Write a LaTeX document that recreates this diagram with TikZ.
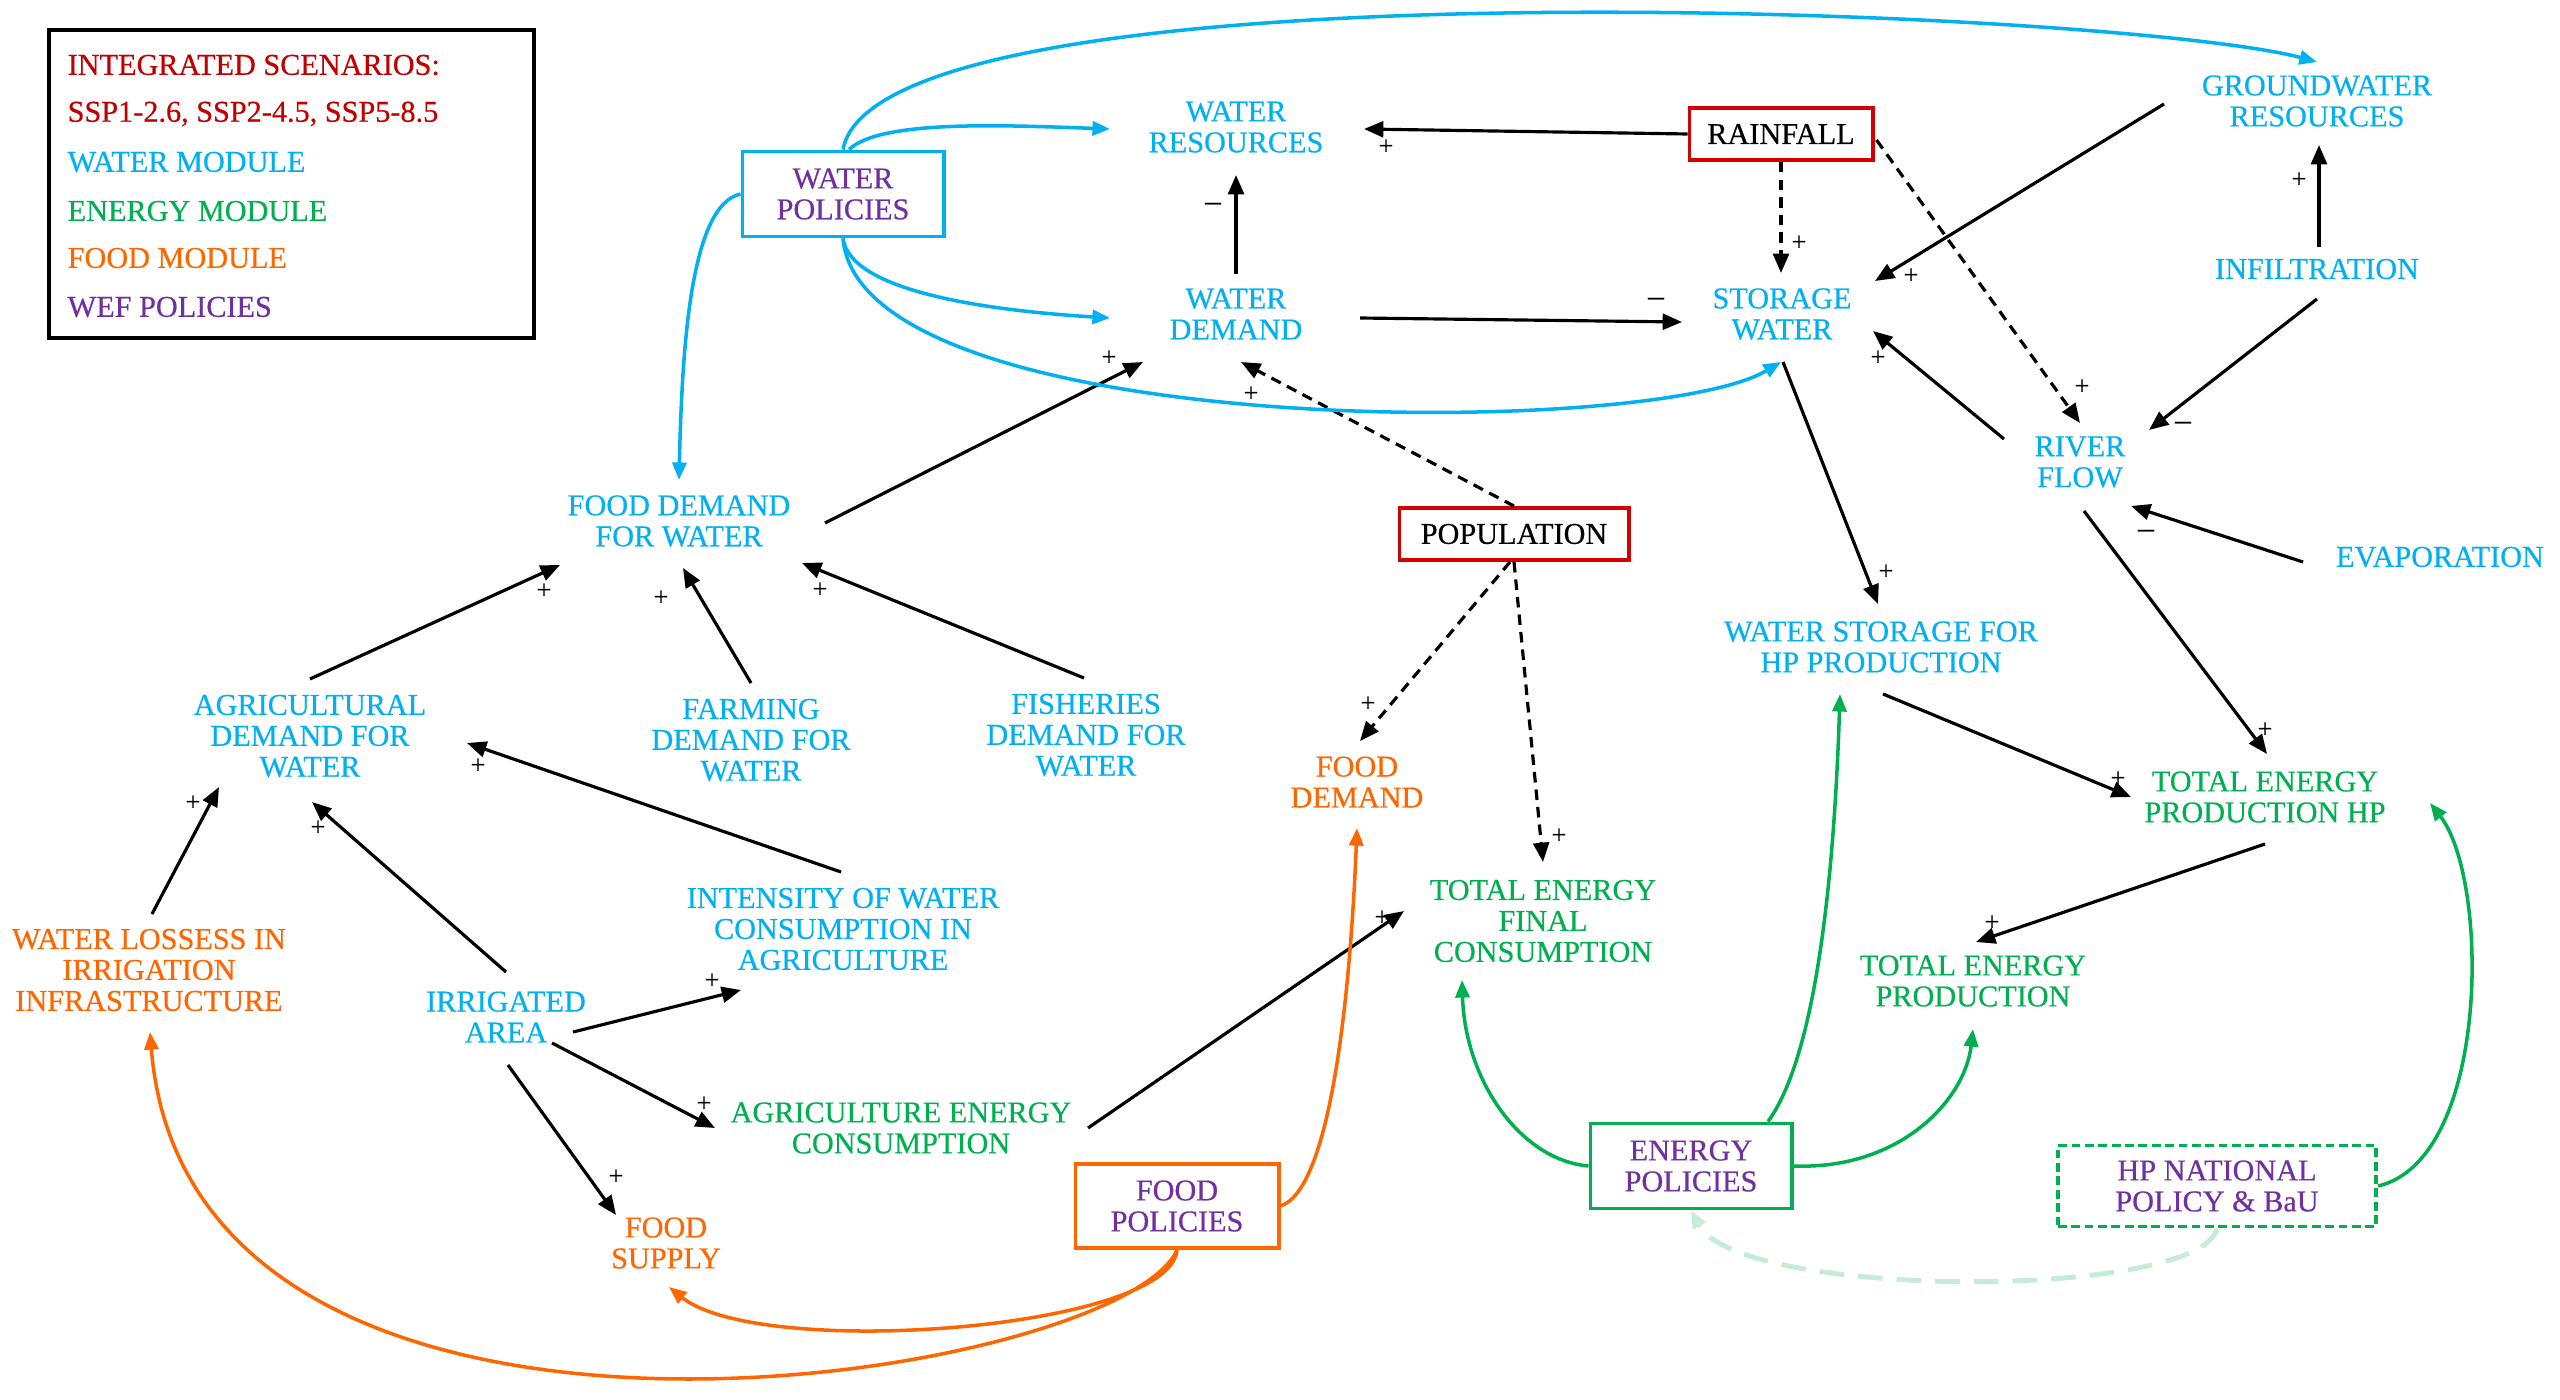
\documentclass[tikz,border=0pt]{standalone}
\usepackage{fontspec}
\setmainfont{Liberation Serif}[FakeBold=0.5]
\usetikzlibrary{arrows.meta,calc}
\definecolor{wcyan}{RGB}{0,176,240}
\definecolor{egreen}{RGB}{0,176,80}
\definecolor{forange}{RGB}{255,102,0}
\definecolor{ppurple}{RGB}{112,48,160}
\definecolor{sred}{RGB}{192,0,0}
\definecolor{bred}{RGB}{210,0,0}
\definecolor{lgreen}{RGB}{198,236,214}
\begin{document}
\begin{tikzpicture}[x=0.01cm,y=-0.01cm,
  txt/.style={align=center,font=\fontsize{8.6}{8.8}\selectfont,inner sep=0pt},
  wat/.style={txt,text=wcyan},
  ene/.style={txt,text=egreen},
  foo/.style={txt,text=forange},
  blk/.style={txt,text=black},
  polbox/.style={txt,text=ppurple,draw,line width=1.1pt},
  legtxt/.style={txt,anchor=west},
  arr/.style={-{Triangle[length=5.5pt,width=4.5pt]},line width=0.9pt,black},
  darr/.style={arr,dash pattern=on 3pt off 2pt},
  carr/.style={-{Triangle[length=5pt,width=4pt]},line width=1pt},
  sg/.style={font=\fontsize{7.5}{7.5}\selectfont,inner sep=0pt,text=black},
  mn/.style={font=\fontsize{9}{9}\selectfont,inner sep=0pt,text=black},
]
\useasboundingbox (0,0) rectangle (2560,1400);

% legend
\node (legend) [draw,black,line width=1pt,minimum width=4.85cm,minimum height=3.08cm,anchor=north west,inner sep=0pt] at (47,28) {};
\node (leg1) [legtxt,text=sred] at (67,65) {INTEGRATED SCENARIOS:};
\node (leg2) [legtxt,text=sred] at (67,114) {SSP1-2.6, SSP2-4.5, SSP5-8.5};
\node (leg3) [legtxt,text=wcyan] at (67,162) {WATER MODULE};
\node (leg4) [legtxt,text=egreen] at (67,211) {ENERGY MODULE};
\node (leg5) [legtxt,text=forange] at (67,258) {FOOD MODULE};
\node (leg6) [legtxt,text=ppurple] at (67,307) {WEF POLICIES};

% boxes
\node (wp) [polbox,draw=wcyan,minimum width=2.01cm,minimum height=0.85cm] at (843,194) {WATER\\POLICIES};
\node (rain) [blk,draw=bred,line width=1.1pt,minimum width=1.83cm,minimum height=0.52cm] at (1781,134) {RAINFALL};
\node (pop) [blk,draw=bred,line width=1.1pt,minimum width=2.29cm,minimum height=0.52cm] at (1514,534) {POPULATION};
\node (ep) [polbox,draw=egreen,minimum width=2.01cm,minimum height=0.85cm] at (1691,1166) {ENERGY\\POLICIES};
\node (hp) [polbox,draw=egreen,dash pattern=on 2.5pt off 1.3pt,minimum width=3.18cm,minimum height=0.81cm] at (2217,1186) {HP NATIONAL\\POLICY \& BaU};
\node (fp) [polbox,draw=forange,minimum width=2.03cm,minimum height=0.84cm] at (1177,1206) {FOOD\\POLICIES};

% variables
\node (wr) [wat] at (1236,127) {WATER\\RESOURCES};
\node (gw) [wat] at (2317,101) {GROUNDWATER\\RESOURCES};
\node (wd) [wat] at (1236,314) {WATER\\DEMAND};
\node (sw) [wat] at (1782,314) {STORAGE\\WATER};
\node (inf) [wat] at (2317,269) {INFILTRATION};
\node (rf) [wat] at (2080,462) {RIVER\\FLOW};
\node (evap) [wat] at (2440,557) {EVAPORATION};
\node (fdw) [wat] at (679,521) {FOOD DEMAND\\FOR WATER};
\node (wshp) [wat] at (1881,647) {WATER STORAGE FOR\\HP PRODUCTION};
\node (agri) [wat] at (310,736) {AGRICULTURAL\\DEMAND FOR\\WATER};
\node (farm) [wat] at (751,740) {FARMING\\DEMAND FOR\\WATER};
\node (fish) [wat] at (1086,735) {FISHERIES\\DEMAND FOR\\WATER};
\node (fd) [foo] at (1357,782) {FOOD\\DEMAND};
\node (tephp) [ene] at (2265,797) {TOTAL ENERGY\\PRODUCTION HP};
\node (tefc) [ene] at (1543,921) {TOTAL ENERGY\\FINAL\\CONSUMPTION};
\node (int) [wat] at (843,929) {INTENSITY OF WATER\\CONSUMPTION IN\\AGRICULTURE};
\node (wl) [foo] at (149,970) {WATER LOSSESS IN\\IRRIGATION\\INFRASTRUCTURE};
\node (tep) [ene] at (1973,981) {TOTAL ENERGY\\PRODUCTION};
\node (ia) [wat] at (506,1017) {IRRIGATED\\AREA};
\node (aec) [ene] at (901,1128) {AGRICULTURE ENERGY\\CONSUMPTION};
\node (fs) [foo] at (666,1243) {FOOD\\SUPPLY};

% black connectors
\draw[arr] (rain.west) -- ($(wr)+(128,2)$);
\draw[arr] ($(wd)+(0,-40)$) -- ($(wr)+(0,48)$);
\draw[arr] ($(wd)+(124,4)$) -- ($(sw)+(-100,8)$);
\draw[darr] (rain.south) -- ($(sw)+(-1,-41)$);
\draw[darr] ($(rain.east)+(2,6)$) -- ($(rf)+(0,-39)$);
\draw[arr] ($(gw)+(-153,3)$) -- ($(sw)+(93,-33)$);
\draw[arr] ($(inf)+(2,-22)$) -- ($(gw)+(2,44)$);
\draw[arr] ($(inf)+(0,30)$) -- ($(rf)+(69,-32)$);
\draw[arr] ($(rf)+(-76,-23)$) -- ($(sw)+(91,17)$);
\draw[arr] ($(evap)+(-137,5)$) -- ($(rf)+(51,44)$);
\draw[arr] ($(rf)+(4,49)$) -- ($(tephp)+(2,-43)$);
\draw[arr] ($(sw)+(1,48)$) -- ($(wshp)+(-3,-43)$);
\draw[arr] ($(wshp)+(2,47)$) -- ($(tephp)+(-134,0)$);
\draw[arr] ($(tephp)+(0,47)$) -- ($(tep)+(3,-39)$);
\draw[darr] (pop.north) -- ($(wd)+(5,48)$);
\draw[darr] ($(pop.south)+(-4,0)$) -- ($(fd)+(3,-41)$);
\draw[darr] (pop.south) -- ($(tefc)+(0,-59)$);
\draw[arr] ($(fdw)+(146,2)$) -- ($(wd)+(-93,48)$);
\draw[arr] ($(agri)+(0,-57)$) -- ($(fdw)+(-119,44)$);
\draw[arr] ($(farm)+(0,-57)$) -- ($(fdw)+(4,47)$);
\draw[arr] ($(fish)+(-2,-57)$) -- ($(fdw)+(123,42)$);
\draw[arr] ($(int)+(-2,-57)$) -- ($(agri)+(157,7)$);
\draw[arr] ($(ia)+(0,-45)$) -- ($(agri)+(2,66)$);
\draw[arr] ($(wl)+(3,-56)$) -- ($(agri)+(-91,51)$);
\draw[arr] ($(ia)+(67,15)$) -- ($(int)+(-102,61)$);
\draw[arr] ($(ia)+(46,26)$) -- ($(aec)+(-186,0)$);
\draw[arr] ($(ia)+(2,48)$) -- ($(fs)+(-50,-28)$);
\draw[arr] ($(aec)+(187,0)$) -- ($(tefc)+(-139,-10)$);

% signs
\node (s1) [sg] at (1386,147) {+};
\node (s2) [mn] at (1213,207) {--};
\node (s3) [mn] at (1656,302) {--};
\node (s4) [sg] at (1799,243) {+};
\node (s5) [sg] at (2082,387) {+};
\node (s6) [sg] at (1911,276) {+};
\node (s7) [sg] at (2299,180) {+};
\node (s8) [mn] at (2183,426) {--};
\node (s9) [sg] at (1878,358) {+};
\node (s10) [mn] at (2146,534) {--};
\node (s11) [sg] at (2265,730) {+};
\node (s12) [sg] at (1886,572) {+};
\node (s13) [sg] at (2118,779) {+};
\node (s14) [sg] at (1992,923) {+};
\node (s15) [sg] at (1251,394) {+};
\node (s16) [sg] at (1368,704) {+};
\node (s17) [sg] at (1559,836) {+};
\node (s18) [sg] at (1109,358) {+};
\node (s19) [sg] at (544,591) {+};
\node (s20) [sg] at (661,598) {+};
\node (s21) [sg] at (820,590) {+};
\node (s22) [sg] at (478,766) {+};
\node (s23) [sg] at (318,828) {+};
\node (s24) [sg] at (193,803) {+};
\node (s25) [sg] at (712,981) {+};
\node (s26) [sg] at (704,1104) {+};
\node (s27) [sg] at (616,1177) {+};
\node (s28) [sg] at (1382,918) {+};

% water policy curves
\draw[carr,wcyan] (wp.north) .. controls (879,-45) and (2124,10) .. ($(gw)+(0,-39)$);
\draw[carr,wcyan] ($(wp.north)+(6,0)$) .. controls (880,120) and (1000,125) .. ($(wr)+(-126,2)$);
\draw[carr,wcyan] (wp.south) .. controls (850,290) and (980,310) .. ($(wd)+(-126,4)$);
\draw[carr,wcyan] (wp.south) .. controls (860,440) and (1650,440) .. ($(sw)+(-1,48)$);
\draw[carr,wcyan] (wp.west) .. controls (690,205) and (682,350) .. ($(fdw)+(0,-41)$);

% food policy curves
\draw[carr,forange] (fp.east) .. controls (1330,1190) and (1350,1000) .. ($(fd)+(0,46)$);
\draw[carr,forange] (fp.south) .. controls (1170,1330) and (760,1360) .. ($(fs)+(3,44)$);
\draw[carr,forange] (fp.south) .. controls (1120,1380) and (190,1530) .. ($(wl)+(1,62)$);

% energy policy curves
\draw[carr,egreen] (ep.west) .. controls (1520,1160) and (1465,1080) .. ($(tefc)+(-81,59)$);
\draw[carr,egreen] (ep.east) .. controls (1900,1170) and (1965,1100) .. ($(tep)+(0,48)$);
\draw[carr,egreen] ($(ep.north)+(77,0)$) .. controls (1820,1050) and (1835,850) .. ($(wshp)+(-41,47)$);
\draw[carr,egreen] (hp.east) .. controls (2490,1160) and (2490,880) .. ($(tephp)+(165,6)$);
\draw[carr,lgreen,line width=1.4pt,dash pattern=on 7pt off 4pt] (hp.south) .. controls (2200,1300) and (1740,1300) .. (ep.south);
\end{tikzpicture}
\end{document}
